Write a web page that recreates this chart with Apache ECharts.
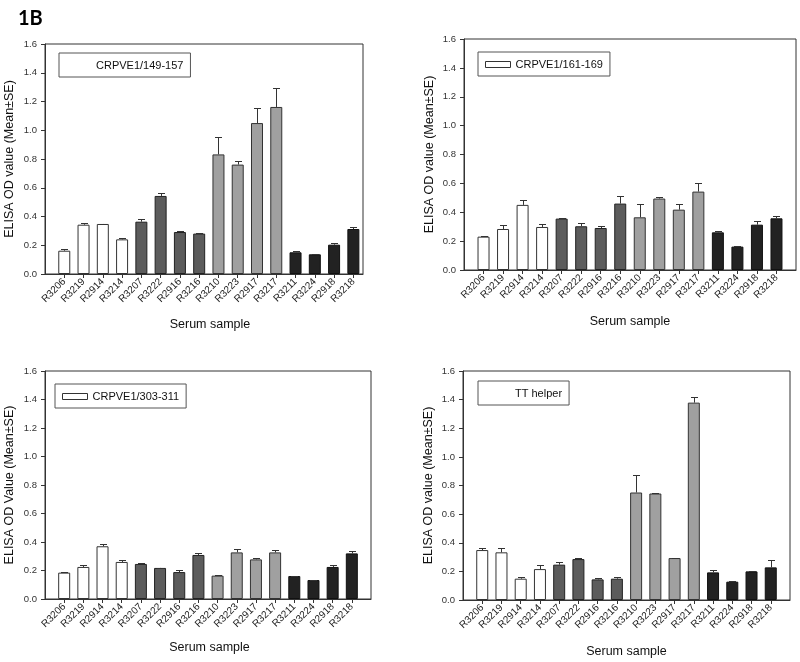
<!DOCTYPE html>
<html>
<head>
<meta charset="utf-8">
<script src="https://cdn.jsdelivr.net/npm/echarts@6/dist/echarts.min.js"></script>
<style>
html,body{margin:0;padding:0;background:#fff;}
#chart{width:800px;height:662px;}
</style>
</head>
<body>
<div id="chart"></div>
<script>
// ---- data ----
const categories = ['R3206','R3219','R2914','R3214','R3207','R3222','R2916','R3216','R3210','R3223','R2917','R3217','R3211','R3224','R2918','R3218'];
const groups = [0,0,0,0,1,1,1,1,2,2,2,2,3,3,3,3];
const yTicks = [0, 0.2, 0.4, 0.6, 0.8, 1.0, 1.2, 1.4, 1.6];

const mean149 = [0.162,0.343,0.348,0.241,0.364,0.543,0.292,0.281,0.832,0.761,1.050,1.162,0.151,0.137,0.204,0.313];
const se149   = [0.012,0.014,0.003,0.007,0.019,0.020,0.009,0.002,0.123,0.023,0.104,0.130,0.007,0.002,0.012,0.014];

const mean161 = [0.231,0.284,0.451,0.298,0.356,0.303,0.291,0.460,0.365,0.495,0.418,0.543,0.261,0.162,0.314,0.358];
const se161   = [0.003,0.028,0.032,0.019,0.003,0.023,0.012,0.051,0.093,0.014,0.040,0.058,0.007,0.002,0.024,0.017];

const mean303 = [0.185,0.225,0.370,0.260,0.246,0.218,0.189,0.309,0.164,0.327,0.278,0.327,0.161,0.133,0.225,0.320];
const se303   = [0.005,0.016,0.018,0.011,0.009,0.002,0.012,0.016,0.002,0.023,0.012,0.014,0.002,0.002,0.012,0.014];

const meanTT  = [0.349,0.333,0.149,0.216,0.247,0.286,0.144,0.149,0.751,0.744,0.293,1.379,0.193,0.128,0.200,0.228];
const seTT    = [0.012,0.028,0.009,0.026,0.021,0.009,0.012,0.009,0.119,0.002,0.002,0.040,0.016,0.002,0.002,0.053];

const panelNames = ['CRPVE1/149-157','CRPVE1/161-169','CRPVE1/303-311','TT helper'];
const yNames = ['ELISA OD value (Mean±SE)','ELISA OD value (Mean±SE)','ELISA OD Value (Mean±SE)','ELISA OD value (Mean±SE)'];
const xName = 'Serum sample';

// ---- styling / layout ----
const groupColors = ['#ffffff','#5c5c5c','#a0a0a0','#222222'];
const groupBorders = ['#333333','#222222','#333333','#111111'];
const panels = [
  {mean: mean149, se: se149, grid:{left:45, top:44, width:318, height:230}, xMax:15.5, yGap:35, xGap:44, xNamePad:[0,0,0,12],
   legend:{left:59, top:53}, icon:false},
  {mean: mean161, se: se161, grid:{left:464, top:39, width:332, height:231}, xMax:16, yGap:34, xGap:45, xNamePad:[0,0,0,0],
   legend:{left:478, top:52}, icon:true},
  {mean: mean303, se: se303, grid:{left:45, top:371, width:326, height:228}, xMax:16, yGap:35, xGap:42, xNamePad:[0,0,0,3],
   legend:{left:55, top:384}, icon:true},
  {mean: meanTT, se: seTT, grid:{left:463, top:371, width:327, height:229}, xMax:16, yGap:34, xGap:45, xNamePad:[0,0,0,0],
   legend:{left:478, top:381}, icon:false}
];

const FONT = '"Liberation Sans", Arial, sans-serif';
const idx = categories.map((c, i) => i);

const option = {
  animation: false,
  backgroundColor: '#fff',
  title: {
    text: '1B', left: 13, top: 4,
    textStyle: {fontFamily: 'Lato, "Open Sans", sans-serif', fontWeight: 'bold', fontSize: 20, color: '#000'}
  },
  grid: [], xAxis: [], yAxis: [], legend: [], series: []
};

panels.forEach((p, k) => {
  option.grid.push(Object.assign({show: true, borderColor: '#333', borderWidth: 1, backgroundColor: '#fff'}, p.grid));
  option.xAxis.push({
    type: 'value', gridIndex: k, min: -1, max: p.xMax,
    name: xName, nameLocation: 'middle', nameGap: p.xGap, nameMoveOverlap: false,
    nameTextStyle: {fontFamily: FONT, fontSize: 12.5, color: '#111', verticalAlign: 'top', padding: p.xNamePad},
    axisLine: {show: true, onZero: false, lineStyle: {color: '#333', width: 1}},
    axisTick: {show: true, customValues: idx, length: 4, lineStyle: {color: '#333'}},
    axisLabel: {show: true, customValues: idx, rotate: 45, margin: 6,
      fontFamily: FONT, fontSize: 10, color: '#222',
      formatter: v => categories[Math.round(v)] || ''},
    splitLine: {show: false}
  });
  option.yAxis.push({
    type: 'value', gridIndex: k, min: 0, max: 1.6, interval: 0.2,
    name: yNames[k], nameLocation: 'middle', nameGap: p.yGap, nameRotate: 90, nameMoveOverlap: false,
    nameTextStyle: {fontFamily: FONT, fontSize: 12.5, color: '#111', align: 'center', verticalAlign: 'middle'},
    axisLine: {show: true, onZero: false, lineStyle: {color: '#333', width: 1}},
    axisTick: {show: true, length: 4, lineStyle: {color: '#333'}},
    axisLabel: {fontFamily: FONT, fontSize: 9.5, color: '#333', margin: 8,
      formatter: v => v.toFixed(1)},
    splitLine: {show: false}
  });
  option.legend.push({
    left: p.legend.left, top: p.legend.top,
    orient: 'horizontal', selectedMode: false,
    padding: [7, 7, 6, 7],
    borderColor: '#555', borderWidth: 1, backgroundColor: '#fff',
    itemWidth: 25, itemHeight: 6, icon: 'rect',
    textStyle: {fontFamily: FONT, fontSize: 11, color: '#111'},
    data: [{name: panelNames[k], itemStyle: p.icon
      ? {color: '#fff', borderColor: '#333', borderWidth: 1}
      : {color: '#fff', borderColor: '#fff', borderWidth: 0}}]
  });
  option.series.push({
    type: 'bar', name: panelNames[k], xAxisIndex: k, yAxisIndex: k,
    barWidth: 12,
    data: p.mean.map((v, i) => ({
      value: [i, v],
      itemStyle: {color: groupColors[groups[i]], borderColor: groupBorders[groups[i]], borderWidth: 1}
    })),
    z: 2
  });
  option.series.push({
    type: 'custom', name: 'se' + k, xAxisIndex: k, yAxisIndex: k, z: 3,
    data: p.mean.map((v, i) => [i, v, v + p.se[i]]),
    renderItem: (params, api) => {
      const x = api.value(0);
      const base = api.coord([x, api.value(1)]);
      const top = api.coord([x, api.value(2)]);
      const cx = Math.round(base[0]) + 0.5;
      const ty = Math.round(top[1]) + 0.5;
      const style = {stroke: '#333', lineWidth: 1};
      return {
        type: 'group',
        children: [
          {type: 'line', shape: {x1: cx, y1: base[1], x2: cx, y2: ty}, style: style},
          {type: 'line', shape: {x1: cx - 3.5, y1: ty, x2: cx + 3.5, y2: ty}, style: style}
        ]
      };
    }
  });
});

const chart = echarts.init(document.getElementById('chart'), null, {renderer: 'canvas'});
chart.setOption(option);
</script>
</body>
</html>
